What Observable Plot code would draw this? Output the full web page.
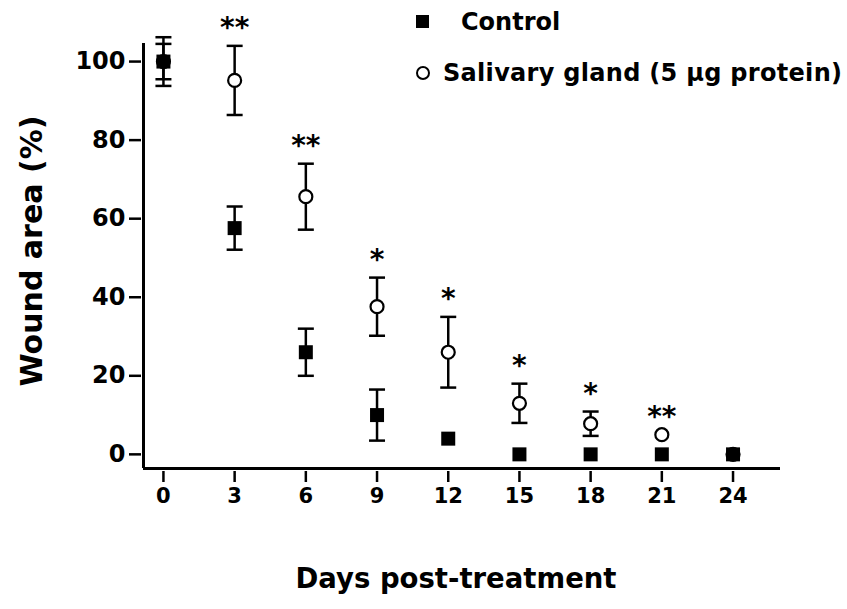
<!DOCTYPE html>
<html>
<head>
<meta charset="utf-8">
<script src="https://cdn.jsdelivr.net/npm/d3@7"></script>
<script src="https://cdn.jsdelivr.net/npm/@observablehq/plot@0.6"></script>
<style>
  html, body { margin: 0; padding: 0; background: #fff; }
  #wrap { position: relative; width: 847px; height: 609px; font-family: "DejaVu Sans", sans-serif; font-weight: bold; color: #000; }
  #chart { position: absolute; left: 0; top: 0; }
  .lg-sym { position: absolute; box-sizing: border-box; }
  .lg-txt { position: absolute; font-size: 24px; line-height: 1; white-space: nowrap; }
</style>
</head>
<body>
<div id="wrap">
  <div id="chart"></div>
  <div class="lg-sym" style="left:416px; top:15px; width:13px; height:13px; background:#000;"></div>
  <div class="lg-txt" id="lg0" style="left:461px; top:10px;"></div>
  <div class="lg-sym" style="left:416px; top:66px; width:14px; height:14px; border:2px solid #000; border-radius:50%; background:#fff;"></div>
  <div class="lg-txt" id="lg1" style="left:443px; top:61px; letter-spacing:0.3px;"></div>
</div>
<script>
// ---- data ----
const days = [0, 3, 6, 9, 12, 15, 18, 21, 24];
const controlMean = [100, 57.6, 26, 10, 4, 0, 0, 0, 0];
const controlErr = [4.5, 5.5, 6, 6.5, 0, 0, 0, 0, 0];
const salivaryMean = [100, 95.2, 65.6, 37.6, 26, 13, 7.8, 5, 0];
const salivaryErr = [6.2, 8.8, 8.4, 7.4, 9, 5, 3.1, 0, 0];
const significance = ["", "**", "**", "*", "*", "*", "*", "**", ""];
const seriesNames = ["Control", "Salivary gland (5 \u03bcg protein)"];
const xTicks = [0, 3, 6, 9, 12, 15, 18, 21, 24];
const yTicks = [0, 20, 40, 60, 80, 100];
const xDomain = [-0.84, 26];
const yDomain = [-3.6, 104.6];
const xLabel = "Days post-treatment";
const yLabel = "Wound area (%)";

document.getElementById("lg0").textContent = seriesNames[0];
document.getElementById("lg1").textContent = seriesNames[1];

// ---- tables ----
const control = days.map((d, i) => ({day: d, mean: controlMean[i], err: controlErr[i]}));
const salivary = days.map((d, i) => ({day: d, mean: salivaryMean[i], err: salivaryErr[i], sig: significance[i]}));
const caps = rows => rows.filter(r => r.err > 0).flatMap(r => [
  {day: r.day, y: r.mean + r.err}, {day: r.day, y: r.mean - r.err}
]);
const capSymbol = {
  draw(context, size) {
    const r = Math.sqrt(size / Math.PI);
    context.moveTo(-r, 0);
    context.lineTo(r, 0);
  }
};

const font = "DejaVu Sans, sans-serif";

const chart = Plot.plot({
  width: 847,
  height: 609,
  marginLeft: 143,
  marginRight: 67,
  marginTop: 43,
  marginBottom: 141,
  style: {fontFamily: font, fontWeight: "bold", background: "#fff", color: "#000"},
  x: {domain: xDomain},
  y: {domain: yDomain},
  marks: [
    Plot.axisX({ticks: xTicks, tickSize: 11, dy: 3, tickPadding: 6, fontSize: 21, fontWeight: "bold", strokeWidth: 2.5, label: null}),
    Plot.axisY({ticks: yTicks, tickSize: 12, dx: -2, tickPadding: 4, fontSize: 24, fontWeight: "bold", strokeWidth: 2.5, label: null}),
    Plot.ruleX([xDomain[0]], {strokeWidth: 3}),
    Plot.ruleY([yDomain[0]], {strokeWidth: 3}),
    // salivary gland series
    Plot.ruleX(salivary.filter(r => r.err > 0), {x: "day", y1: r => r.mean - r.err, y2: r => r.mean + r.err, strokeWidth: 2.5}),
    Plot.dot(caps(salivary), {x: "day", y: "y", symbol: capSymbol, r: 8, stroke: "#000", strokeWidth: 2.5}),
    Plot.dot(salivary, {x: "day", y: "mean", symbol: "circle", r: 6.5, fill: "#fff", stroke: "#000", strokeWidth: 2.2}),
    // control series
    Plot.ruleX(control.filter(r => r.err > 0), {x: "day", y1: r => r.mean - r.err, y2: r => r.mean + r.err, strokeWidth: 2.5}),
    Plot.dot(caps(control), {x: "day", y: "y", symbol: capSymbol, r: 8, stroke: "#000", strokeWidth: 2.5}),
    Plot.dot(control, {x: "day", y: "mean", symbol: "square", r: 7.9, fill: "#000", stroke: "none"}),
    // significance stars
    Plot.text(salivary.filter(r => r.sig), {x: "day", y: r => r.mean + r.err, text: "sig", dy: -18, fontSize: 28, fontWeight: "bold", fill: "#000"}),
    // axis titles
    Plot.text([xLabel], {frameAnchor: "bottom", textAnchor: "middle", lineAnchor: "middle", dx: -6, dy: 111, fontSize: 27.5, fontWeight: "bold", fill: "#000"}),
    Plot.text([yLabel], {frameAnchor: "left", textAnchor: "middle", lineAnchor: "middle", rotate: -90, dx: -111, dy: -5, fontSize: 30, fontWeight: "bold", fill: "#000"})
  ]
});
document.getElementById("chart").appendChild(chart);
</script>
</body>
</html>
